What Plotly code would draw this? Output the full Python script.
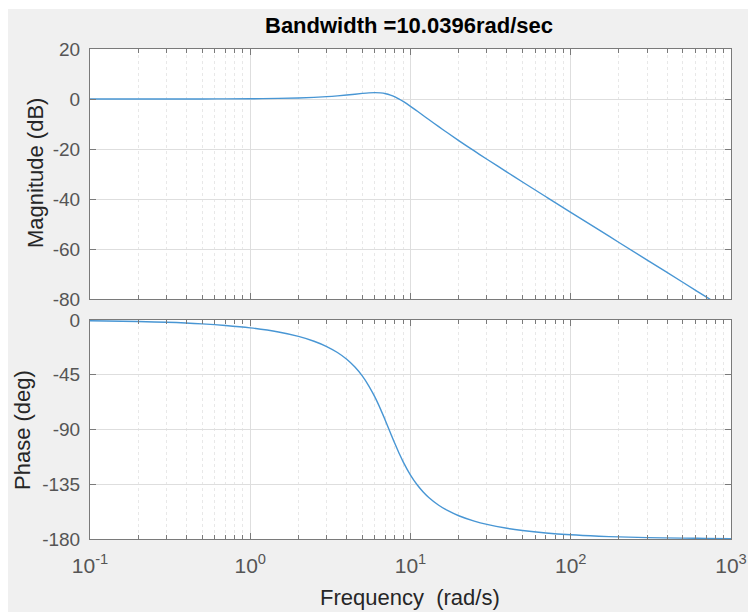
import plotly.graph_objects as go

# Closed-loop frequency response samples (rad/s, dB, deg)
freq = [0.1, 0.2, 0.3, 0.5, 0.7, 1, 1.5, 2, 2.5, 3, 3.5, 4, 4.5, 5, 5.5, 6, 6.5,
        7, 7.5, 8, 8.5, 9, 10, 11, 12, 13, 15, 17, 20, 25, 30, 40, 50, 70,
        100, 150, 200, 300, 500, 700, 1000]
magnitude_db = [0.00, 0.00, 0.01, 0.03, 0.05, 0.11, 0.24, 0.43, 0.66, 0.94, 1.26,
                1.60, 1.93, 2.24, 2.47, 2.55, 2.45, 2.12, 1.57, 0.84, -0.03,
                -0.97, -2.92, -4.82, -6.59, -8.21, -11.07, -13.52, -16.63,
                -20.78, -24.09, -29.24, -33.19, -39.09, -45.32, -52.38, -57.39,
                -64.43, -73.31, -79.16, -85.35]
phase_deg = [-0.64, -1.27, -1.91, -3.20, -4.49, -6.46, -9.87, -13.50, -17.44,
             -21.80, -26.70, -32.28, -38.66, -45.97, -54.26, -63.43, -73.23,
             -83.21, -92.86, -101.77, -109.69, -116.57, -127.48, -135.43,
             -141.34, -145.85, -152.24, -156.54, -160.88, -165.28, -167.99,
             -171.18, -173.01, -175.05, -176.55, -177.70, -178.28, -178.85,
             -179.31, -179.51, -179.66]

decade_vals = [0.1, 1, 10, 100, 1000]
decade_text = ["10<sup>-1</sup>", "10<sup>0</sup>", "10<sup>1</sup>",
               "10<sup>2</sup>", "10<sup>3</sup>"]
mag_ticks = [20, 0, -20, -40, -60, -80]
mag_tick_text = ["20", "0", "-20", "-40", "-60", "-80"]
phase_ticks = [0, -45, -90, -135, -180]
phase_tick_text = ["0", "-45", "-90", "-135", "-180"]

title_text = "Bandwidth =10.0396rad/sec"

minor_vals = [k * 10 ** d for d in range(-1, 3) for k in range(2, 10)]

LINE = "#4896d4"
AXIS = "#7a7a7a"
GRID = "#dedede"
MINOR_GRID = "#e8e8e8"
TEXT = "#262626"
TICKTXT = "#555555"
FONT = "Liberation Sans, Arial, sans-serif"

fig = go.Figure()
fig.add_trace(go.Scatter(x=freq, y=magnitude_db, mode="lines", line_shape="spline",
                         line=dict(color=LINE, width=1.4), xaxis="x", yaxis="y",
                         showlegend=False, hoverinfo="skip"))
fig.add_trace(go.Scatter(x=freq, y=phase_deg, mode="lines", line_shape="spline",
                         line=dict(color=LINE, width=1.4), xaxis="x2", yaxis="y2",
                         showlegend=False, hoverinfo="skip"))

W, H = 748, 612
L, R, T, B = 90, 17, 49, 73
plot_h = H - T - B

def xaxis_common(show_labels):
    return dict(
        type="log", range=[-1, 3], domain=[0, 1],
        tickvals=decade_vals, ticktext=decade_text, showticklabels=show_labels,
        ticks="inside", ticklen=6, tickcolor=AXIS, tickwidth=1,
        ticklabelstandoff=8,
        showline=True, linecolor=AXIS, linewidth=1, mirror="allticks",
        showgrid=True, gridcolor=GRID, gridwidth=1, zeroline=False,
        tickfont=dict(family=FONT, size=21, color=TICKTXT),
        minor=dict(tickvals=minor_vals, ticks="inside", ticklen=4,
                   tickcolor=AXIS, showgrid=True, gridcolor=MINOR_GRID,
                   griddash="dot", gridwidth=1),
        fixedrange=True,
    )

def yaxis_common(rng, ticks, labels, dom):
    return dict(
        range=rng, domain=dom, tickvals=ticks, ticktext=labels,
        ticks="inside", ticklen=6, tickcolor=AXIS, ticklabelstandoff=5,
        showline=True, linecolor=AXIS, linewidth=1, mirror="allticks",
        showgrid=True, gridcolor=GRID, gridwidth=1, zeroline=False,
        tickfont=dict(family=FONT, size=19, color=TICKTXT),
        fixedrange=True,
    )

top_dom = [(539 - 299) / plot_h, 1.0]
bot_dom = [0.0, (539 - 320) / plot_h]

fig.update_layout(
    width=W, height=H,
    margin=dict(l=L, r=R, t=T, b=B, autoexpand=False),
    paper_bgcolor="#f0f0f0", plot_bgcolor="white",
    xaxis=dict(**xaxis_common(False), anchor="y"),
    yaxis=yaxis_common([-80, 20], mag_ticks, mag_tick_text, top_dom),
    xaxis2=dict(**xaxis_common(True), anchor="y2", matches="x"),
    yaxis2=yaxis_common([-180, 0], phase_ticks, phase_tick_text, bot_dom),
    font=dict(family=FONT, color=TEXT),
)
fig.layout.yaxis.anchor = "x"
fig.layout.yaxis2.anchor = "x2"

pw = W - L - R

def px_x(px):
    return (px - L) / pw

def px_y(py):
    return (H - B - py) / plot_h

# White strips along the left and top edges of the figure window
fig.add_shape(type="rect", xref="paper", yref="paper", layer="below",
              x0=px_x(0), x1=px_x(8), y0=px_y(H), y1=px_y(0),
              fillcolor="white", line_width=0)
fig.add_shape(type="rect", xref="paper", yref="paper", layer="below",
              x0=px_x(0), x1=px_x(W), y0=px_y(9), y1=px_y(0),
              fillcolor="white", line_width=0)

fig.add_annotation(text="<b>" + title_text + "</b>", xref="paper", yref="paper",
                   x=px_x(409), y=px_y(25), xanchor="center", yanchor="middle",
                   showarrow=False, font=dict(family=FONT, size=22, color="black"))
fig.add_annotation(text="Magnitude (dB)", xref="paper", yref="paper",
                   x=px_x(35), y=px_y(173), xanchor="center", yanchor="middle",
                   textangle=-90, showarrow=False,
                   font=dict(family=FONT, size=22, color=TEXT))
fig.add_annotation(text="Phase (deg)", xref="paper", yref="paper",
                   x=px_x(22), y=px_y(430), xanchor="center", yanchor="middle",
                   textangle=-90, showarrow=False,
                   font=dict(family=FONT, size=22, color=TEXT))
fig.add_annotation(text="Frequency  (rad/s)", xref="paper", yref="paper",
                   x=px_x(410), y=px_y(597), xanchor="center", yanchor="middle",
                   showarrow=False, font=dict(family=FONT, size=22, color=TEXT))

fig.write_html("out.html")
